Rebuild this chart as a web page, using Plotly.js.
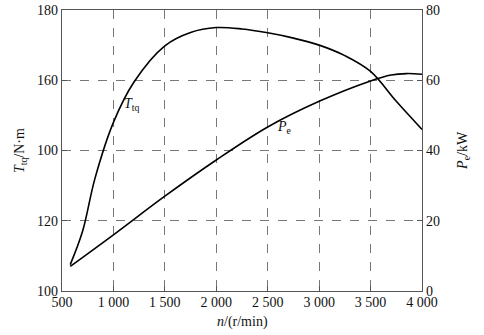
<!DOCTYPE html>
<html>
<head>
<meta charset="utf-8">
<script src="https://cdn.plot.ly/plotly-3.0.1.min.js"></script>
<style>html,body{margin:0;padding:0;background:#fff}#c{width:484px;height:335px}</style>
</head>
<body>
<div id="c"></div>
<script>
// Torque curve (left axis)
const speedT = [580, 700, 820, 1000, 1200, 1500, 1750, 2000, 2250, 2500, 2750, 3000, 3250, 3500, 3750, 4000];
const torque = [107.5, 117, 132, 148, 159.5, 169.8, 173.6, 175, 174.6, 173.5, 172, 170, 167, 162.5, 154, 146];
// Power curve (right axis)
const speedP = [580, 1000, 1500, 2000, 2500, 3000, 3500, 3700, 3850, 4000];
const power = [7, 16, 27, 37.3, 46.7, 54, 59.8, 61.5, 61.9, 61.7];
// Tick labels
const xTickVals = [500, 1000, 1500, 2000, 2500, 3000, 3500, 4000];
const xTickText = ['500', '1 000', '1 500', '2 000', '2 500', '3 000', '3 500', '4 000'];
const yTickVals = [100, 120, 140, 160, 180];
const yTickText = ['100', '120', '100', '160', '180'];
const y2TickVals = [0, 20, 40, 60, 80];

const font = {family: 'Liberation Serif, Times New Roman, serif', size: 14, color: '#111'};
const axisCommon = {
  showline: true, linecolor: '#555', linewidth: 1.2, mirror: false,
  ticks: 'inside', ticklen: 5, tickcolor: '#555', tickwidth: 1,
  zeroline: false, tickfont: font
};

const traces = [
  {x: speedT, y: torque, mode: 'lines', line: {color: '#000', width: 1.6, shape: 'spline', smoothing: 1}, yaxis: 'y', hoverinfo: 'skip'},
  {x: speedP, y: power, mode: 'lines', line: {color: '#000', width: 1.6, shape: 'spline', smoothing: 1}, yaxis: 'y2', hoverinfo: 'skip'}
];

const layout = {
  width: 484, height: 335,
  margin: {l: 62, r: 62, t: 10, b: 44},
  paper_bgcolor: '#fff', plot_bgcolor: '#fff',
  showlegend: false,
  font: font,
  xaxis: Object.assign({}, axisCommon, {
    range: [500, 4000], tickvals: xTickVals, ticktext: xTickText,
    showgrid: true, gridcolor: '#777', griddash: 'dash', gridwidth: 1,
    mirror: true, ticklabelstandoff: -2
  }),
  yaxis: Object.assign({}, axisCommon, {
    range: [100, 180], tickvals: yTickVals, ticktext: yTickText,
    showgrid: true, gridcolor: '#777', griddash: 'dash', gridwidth: 1
  }),
  yaxis2: Object.assign({}, axisCommon, {
    range: [0, 80], tickvals: y2TickVals, overlaying: 'y', side: 'right', anchor: 'x',
    showgrid: false
  }),
  annotations: [
    {xref: 'paper', yref: 'paper', x: 0.5, y: -0.11, yanchor: 'middle', showarrow: false,
     text: '<i>n</i>/(r/min)', font: font},
    {xref: 'paper', yref: 'paper', x: -0.115, y: 0.5, xanchor: 'center', showarrow: false, textangle: -90,
     text: '<i>T</i><sub>tq</sub>/N·m', font: font},
    {xref: 'paper', yref: 'paper', x: 1.115, y: 0.5, xanchor: 'center', showarrow: false, textangle: -90,
     text: '<i>P</i><sub>e</sub>/kW', font: font},
    {xref: 'x', yref: 'y', x: 1180, y: 153, showarrow: false,
     text: '<i>T</i><sub>tq</sub>', font: font},
    {xref: 'x', yref: 'y2', x: 2660, y: 46.5, showarrow: false,
     text: '<i>P</i><sub>e</sub>', font: font}
  ]
};

Plotly.newPlot('c', traces, layout, {staticPlot: true, displayModeBar: false});
</script>
</body>
</html>
